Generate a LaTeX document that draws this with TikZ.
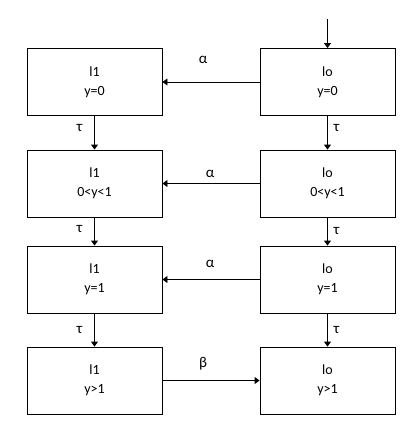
\documentclass[tikz,border=0pt]{standalone}
\usepackage{fontspec}
\setmainfont{Carlito}
\usetikzlibrary{arrows.meta}
\begin{document}
\begin{tikzpicture}[x=1pt,y=-1pt,
  state/.style={draw, line width=0.9pt, minimum width=135pt, minimum height=67pt,
    inner sep=0pt, align=center, font=\fontsize{14}{19}\selectfont},
  trans/.style={draw, line width=0.9pt, -{Triangle[length=5pt,width=7pt]}},
  lbl/.style={inner sep=0pt, font=\fontsize{15}{17}\selectfont}]

  \useasboundingbox (0,0) rectangle (417,432);

  \newcommand\XA{94.5}
  \newcommand\XB{327.5}

  % left column (l1)
  \node[state] (a0) at (\XA, 82)    {l1\\y=0};
  \node[state] (a1) at (\XA, 183.5) {l1\\0<y<1};
  \node[state] (a2) at (\XA, 279.5) {l1\\y=1};
  \node[state] (a3) at (\XA, 380.5) {l1\\y>1};

  % right column (lo)
  \node[state] (b0) at (\XB, 82)    {lo\\y=0};
  \node[state] (b1) at (\XB, 183.5) {lo\\0<y<1};
  \node[state] (b2) at (\XB, 279.5) {lo\\y=1};
  \node[state] (b3) at (\XB, 380.5) {lo\\y>1};

  \coordinate (start) at (\XB, 19);
  \draw[trans] (start) -- (b0);

  % tau steps
  \draw[trans] (a0) -- node[lbl, pos=0.35, xshift=-15pt]{τ} (a1);
  \draw[trans] (a1) -- node[lbl, pos=0.41, xshift=-15pt]{τ} (a2);
  \draw[trans] (a2) -- node[lbl, pos=0.5,  xshift=-15pt]{τ} (a3);
  \draw[trans] (b0) -- node[lbl, pos=0.35, xshift=9pt]{τ} (b1);
  \draw[trans] (b1) -- node[lbl, pos=0.48, xshift=9pt]{τ} (b2);
  \draw[trans] (b2) -- node[lbl, pos=0.5,  xshift=9pt]{τ} (b3);

  % alpha / beta
  \draw[trans] (b0) -- node[lbl, pos=0.58, yshift=22pt]{α} (a0);
  \draw[trans] (b1) -- node[lbl, pos=0.51, yshift=10pt]{α} (a1);
  \draw[trans] (b2) -- node[lbl, pos=0.51, yshift=16pt]{α} (a2);
  \draw[trans] (a3) -- node[lbl, pos=0.42, yshift=17pt]{β} (b3);

\end{tikzpicture}
\end{document}
